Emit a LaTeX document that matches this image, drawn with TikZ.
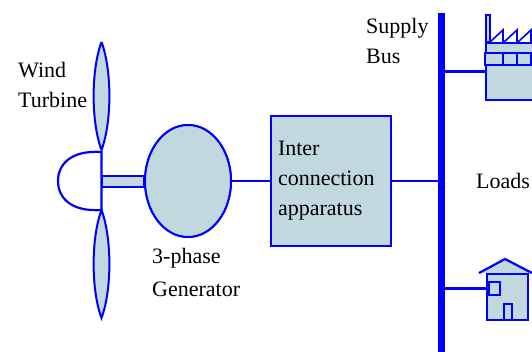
\documentclass[tikz,border=0pt]{standalone}
\usepackage{fontspec}
\setmainfont{Liberation Serif}
\usetikzlibrary{shapes.geometric,positioning,calc}

\definecolor{partfill}{RGB}{193,216,223}
\definecolor{wireblue}{RGB}{0,0,255}

\begin{document}
\begin{tikzpicture}[x=1pt,y=-1pt,
		part/.style={draw=wireblue,fill=partfill,line width=2pt},
		wire/.style={draw=wireblue,line width=2.2pt},
		lbl/.style={align=left,inner sep=0pt,anchor=base west,font=\fontsize{22}{30}\selectfont}]
	\clip (0,0) rectangle (532,351);
	% rotor: blades, hub and shaft
	\path[part] (101.5,42) .. controls (112,70) and (112,122) .. (101.5,150)
		.. controls (91,122) and (91,70) .. (101.5,42);
	\path[part] (101.5,210) .. controls (112,238) and (112,290) .. (101.5,318)
		.. controls (91,290) and (91,238) .. (101.5,210);
	\coordinate (hub) at (101.5,181);
	\draw[wire,fill=white] (101.5,152) .. controls (70,150) and (58,165) .. (58,181)
		.. controls (58,197) and (70,212) .. (101.5,210) -- cycle;
	\node[part,ellipse,minimum width=86,minimum height=112,inner sep=0pt] (gen) at (188,181) {};
	\path[part] ($(hub)+(0,-5.5)$) rectangle ($(gen.west)+(0,5.5)$);
	\node[part,ellipse,minimum width=86,minimum height=112,inner sep=0pt] at (gen) {};
	% interconnection box and supply bus
	\node[part,rectangle,minimum height=130,text width=106,inner xsep=7pt,align=left,
		font=\fontsize{22}{30}\selectfont] (icbox) at (331,181) {Inter\\connection\\apparatus};
	\node[fill=wireblue,minimum width=7,minimum height=340,inner sep=0pt] (bus) at (441.5,183) {};
	\path[wire]
		(gen.east) edge (icbox.west)
		(icbox.east) edge (icbox.east -| bus.west);
	% factory load
	\node[part,minimum width=65,minimum height=57,inner sep=0pt,anchor=north west] (factory) at (485,42) {};
	\draw[part,line width=1.6pt] (485,53) rectangle (550,65);
	\foreach \x in {503,517,531}
		\draw[wire,line width=1.6pt] (\x,53) -- (\x,65);
	\foreach \x in {490,504,518}
		\draw[wire,line width=1.6pt] (\x,42) -- (\x+13,30) -- (\x+13,42);
	\draw[part,line width=1.6pt] (486,15) rectangle (490,42);
	\draw[wire] (factory.west -| bus.east) -- (factory.west);
	% house load
	\fill[partfill] (479,273) -- (505,259) -- (532,273) -- cycle;
	\draw[wire] (479,273) -- (505,259) -- (532,273);
	\node[part,minimum width=41,minimum height=46,inner sep=0pt,anchor=north west] (house) at (486,273) {};
	\node[part,minimum width=11,minimum height=13,inner sep=0pt,anchor=north west] (win) at (488,281) {};
	\node[part,minimum width=8,minimum height=16,inner sep=0pt,anchor=north west] (door) at (503,303) {};
	\draw[wire] (win.west -| bus.east) -- (win.west);
	% labels (base anchor sits on the last line)
	\node[lbl] (turblbl) at (18,107) {Wind\\Turbine};
	\node[lbl,font=\fontsize{22}{33}\selectfont] (genlbl) at (152,296) {3-phase\\Generator};
	\node[lbl] (buslbl) at (366,63) {Supply\\Bus};
	\node[lbl] (loadlbl) at (476,188) {Loads};
\end{tikzpicture}
\end{document}
